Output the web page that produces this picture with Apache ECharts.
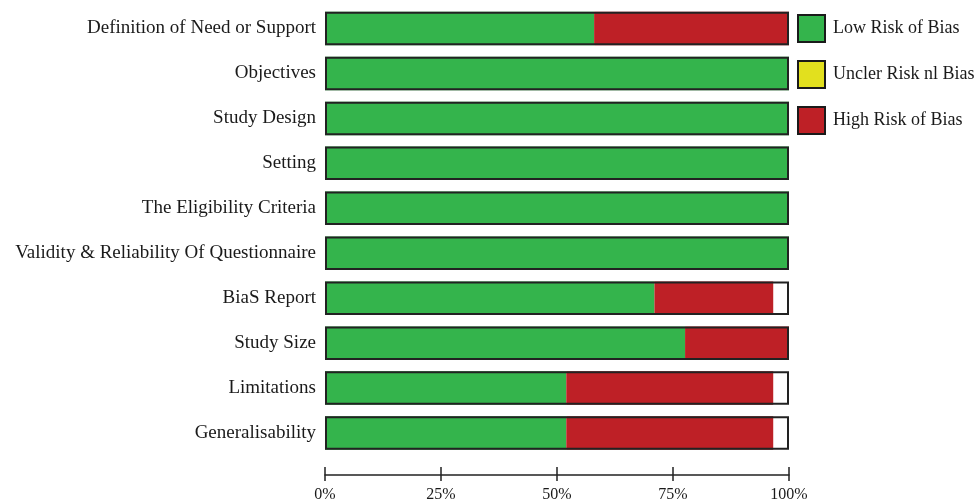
<!DOCTYPE html>
<html><head><meta charset="utf-8">
<script src="https://cdn.jsdelivr.net/npm/echarts@6/dist/echarts.min.js"></script>
<style>html,body{margin:0;padding:0;background:#fff}#c{width:980px;height:503px}</style>
</head><body><div id="c"></div>
<script>
var categories = ["Definition of Need or Support","Objectives","Study Design","Setting","The Eligibility Criteria","Validity & Reliability Of Questionnaire","BiaS Report","Study Size","Limitations","Generalisability"];
var lowRisk =     [58, 100, 100, 100, 100, 100, 71, 77.6, 52, 52];
var unclearRisk = [0, 0, 0, 0, 0, 0, 0, 0, 0, 0];
var highRisk =    [42, 0, 0, 0, 0, 0, 25.6, 22.4, 44.6, 44.6];
var frameTotal =  [100, 100, 100, 100, 100, 100, 100, 100, 100, 100];
var tickLabels = ["0%","25%","50%","75%","100%"];

var FONT = "Liberation Serif";
var chart = echarts.init(document.getElementById('c'));
var barW = 33.5;
chart.setOption({
  animation: false,
  backgroundColor: '#fff',
  textStyle: {fontFamily: FONT},
  legend: {
    orient: 'vertical', left: 797, top: 14, padding: 0,
    itemWidth: 27, itemHeight: 27, itemGap: 17,
    icon: 'rect',
    data: ['Low Risk of Bias','Uncler Risk nl Bias','High Risk of Bias'],
    textStyle: {fontFamily: FONT, fontSize: 18, color: '#1a1a1a', lineHeight: 20, padding: [0,0,0,3]},
    itemStyle: {borderColor: '#1a1a1a', borderWidth: 2}
  },
  grid: {left: 325, right: 191, top: 6, bottom: 46},
  xAxis: [{
    type: 'value', min: 0, max: 100, interval: 25, position: 'bottom', offset: 19.5,
    splitLine: {show: false},
    axisLine: {show: true, lineStyle: {color: '#222', width: 1.5}},
    axisTick: {show: true, length: 6, lineStyle: {color: '#222', width: 1.5}},
    axisLabel: {fontFamily: FONT, fontSize: 16, color: '#1a1a1a', margin: 12,
      formatter: function(v){ return tickLabels[Math.round(v/25)]; }}
  },{
    type: 'value', min: 0, max: 100, interval: 25, position: 'bottom', offset: 19.5,
    splitLine: {show: false},
    axisLine: {show: false},
    axisTick: {show: true, inside: true, length: 8, lineStyle: {color: '#222', width: 1.5}},
    axisLabel: {show: false}
  }],
  yAxis: {
    type: 'category', inverse: true, data: categories,
    axisLine: {show: false}, axisTick: {show: false},
    axisLabel: {fontFamily: FONT, fontSize: 19, color: '#1a1a1a', margin: 9}
  },
  series: [
    {name: 'Low Risk of Bias', type: 'bar', stack: 'r', barWidth: barW, data: lowRisk,
     itemStyle: {color: '#34b44c'}},
    {name: 'Uncler Risk nl Bias', type: 'bar', stack: 'r', barWidth: barW, data: unclearRisk,
     itemStyle: {color: '#e2e01e'}},
    {name: 'High Risk of Bias', type: 'bar', stack: 'r', barWidth: barW, data: highRisk,
     itemStyle: {color: '#be2026'}},
    {name: 'frame', type: 'bar', barWidth: barW, barGap: '-100%', data: frameTotal, z: 5,
     silent: true,
     itemStyle: {color: 'rgba(0,0,0,0)', borderColor: '#222', borderWidth: 2}}
  ]
});
</script></body></html>
